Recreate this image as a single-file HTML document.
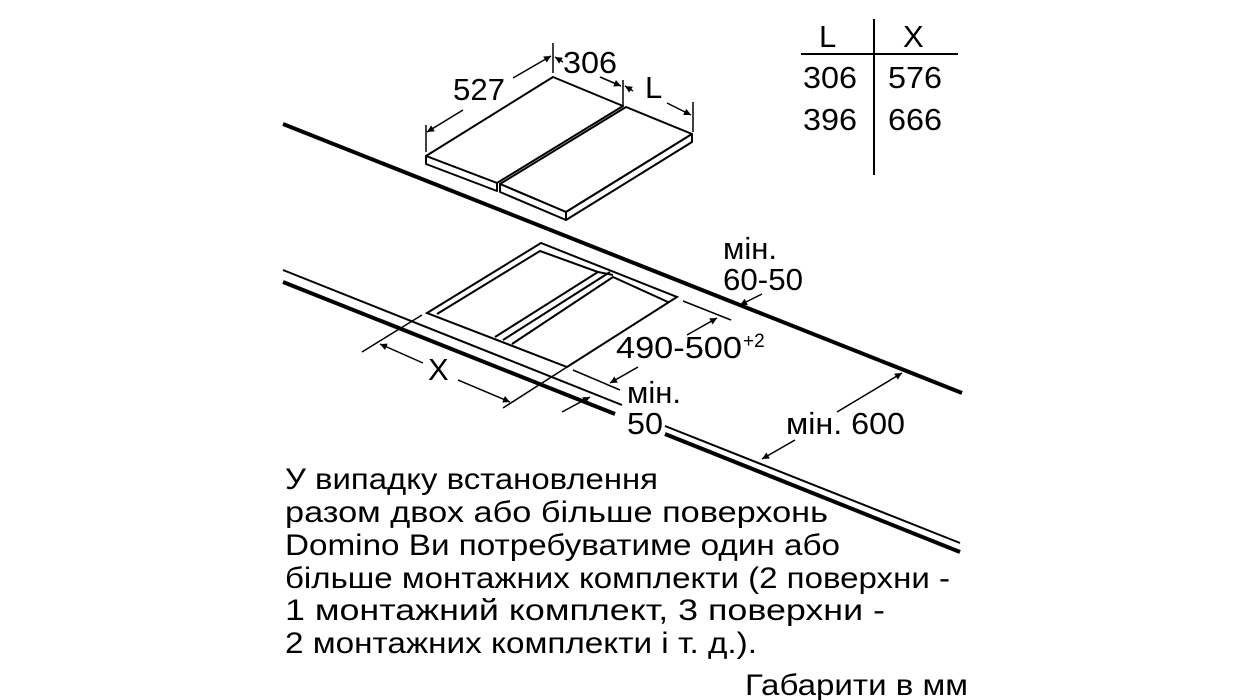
<!DOCTYPE html>
<html><head><meta charset="utf-8"><style>
html,body{margin:0;padding:0;background:#fff;}
svg{display:block;}
text{font-family:"Liberation Sans",Arial,sans-serif;fill:#000;}
</style></head><body>
<svg width="1245" height="700" viewBox="0 0 1245 700" xmlns="http://www.w3.org/2000/svg">
<defs>
<marker id="a" viewBox="0 0 10 10" refX="10" refY="5" markerWidth="10" markerHeight="7" orient="auto-start-reverse" markerUnits="userSpaceOnUse"><path d="M0,0 L10,5 L0,10 z" fill="#000"/></marker>
</defs>
<g stroke="#000" fill="none" stroke-linecap="butt">
<!-- back wall line -->
<line x1="283" y1="124" x2="962" y2="393" stroke-width="4"/>
<!-- front edge lines -->
<line x1="283" y1="270" x2="622" y2="405" stroke-width="2"/>
<line x1="665" y1="426" x2="960" y2="543" stroke-width="2"/>
<line x1="283" y1="282" x2="615" y2="414" stroke-width="4"/>
<line x1="665" y1="434" x2="960" y2="552" stroke-width="4"/>

<!-- hob -->
<g stroke-width="2" fill="#fff" stroke-linejoin="round">
<polygon points="426,156 553,77 623,106 497,183"/>
<polygon points="426,156 497,183 497,191 426,164"/>
<polygon points="500,184 626,107 692,134 566,212"/>
<polygon points="500,184 566,212 566,220 500,192"/>
<polygon points="566,212 692,134 692,142 566,220"/>
</g>
<!-- hob dims -->
<g stroke-width="1.5">
<line x1="426" y1="125" x2="426" y2="152"/>
<line x1="553" y1="43" x2="553" y2="73"/>
<line x1="623" y1="80" x2="623" y2="106"/>
<line x1="693" y1="102" x2="693" y2="132"/>
<line x1="427" y1="132" x2="463" y2="110" marker-start="url(#a)"/>
<line x1="513" y1="78" x2="551" y2="56" marker-end="url(#a)"/>
<line x1="555" y1="57" x2="563" y2="62" marker-start="url(#a)"/>
<line x1="600" y1="77" x2="621" y2="86" marker-end="url(#a)"/>
<line x1="625" y1="86" x2="633" y2="91" marker-start="url(#a)"/>
<line x1="667" y1="103" x2="691" y2="115" marker-end="url(#a)"/>
</g>

<!-- cutout -->
<g stroke-width="2" stroke-linejoin="miter">
<polygon points="427,313 541,243 677,297 567,367"/>
<polyline points="437,314 540,251 598,272 495,337"/>
<line x1="598" y1="272" x2="613" y2="275"/>
<line x1="610" y1="272" x2="503" y2="340"/>
<polyline points="512,344 613,277 668,302"/>
</g>
<!-- cutout dims -->
<g stroke-width="1.5">
<line x1="683" y1="301" x2="731" y2="320"/>
<line x1="687" y1="335" x2="717" y2="318" marker-end="url(#a)"/>
<line x1="573" y1="370" x2="620" y2="390"/>
<line x1="638" y1="367" x2="610" y2="383" marker-end="url(#a)"/>
<line x1="562" y1="412" x2="590" y2="397" marker-end="url(#a)"/>
<line x1="567" y1="367" x2="503" y2="408"/>
<line x1="422" y1="315" x2="362" y2="352"/>
<line x1="423" y1="363" x2="380" y2="344" marker-end="url(#a)"/>
<line x1="458" y1="380" x2="510" y2="402" marker-end="url(#a)"/>
<line x1="762" y1="294" x2="740" y2="305" marker-end="url(#a)"/>
<line x1="837" y1="412" x2="902" y2="373" marker-end="url(#a)"/>
<line x1="795" y1="440" x2="762" y2="459" marker-end="url(#a)"/>
</g>

<!-- table -->
<line x1="874" y1="19" x2="874" y2="175" stroke-width="2"/>
<line x1="801" y1="54" x2="958" y2="54" stroke-width="2"/>
</g>

<g font-size="31">
<text x="819" y="47">L</text>
<text x="903" y="47">X</text>
<text x="803" y="88" textLength="54" lengthAdjust="spacingAndGlyphs">306</text>
<text x="888" y="88" textLength="54" lengthAdjust="spacingAndGlyphs">576</text>
<text x="803" y="130" textLength="54" lengthAdjust="spacingAndGlyphs">396</text>
<text x="888" y="130" textLength="54" lengthAdjust="spacingAndGlyphs">666</text>
<text x="453" y="100" textLength="52" lengthAdjust="spacingAndGlyphs">527</text>
<text x="563" y="73" textLength="54" lengthAdjust="spacingAndGlyphs">306</text>
<text x="645" y="98">L</text>
<text x="723" y="259" textLength="54" lengthAdjust="spacingAndGlyphs">мін.</text>
<text x="723" y="290" textLength="80" lengthAdjust="spacingAndGlyphs">60-50</text>
<text x="616" y="358" textLength="126" lengthAdjust="spacingAndGlyphs">490-500</text>
<text x="743" y="347" font-size="19">+2</text>
<text x="627" y="403" textLength="54" lengthAdjust="spacingAndGlyphs">мін.</text>
<text x="627" y="434" textLength="36" lengthAdjust="spacingAndGlyphs">50</text>
<text x="428" y="380">X</text>
<text x="786" y="434" textLength="119" lengthAdjust="spacingAndGlyphs">мін. 600</text>
</g>
<g font-size="30">
<text x="285" y="489" textLength="373" lengthAdjust="spacingAndGlyphs">У випадку встановлення</text>
<text x="285" y="522" textLength="543" lengthAdjust="spacingAndGlyphs">разом двох або більше поверхонь</text>
<text x="285" y="555" textLength="555" lengthAdjust="spacingAndGlyphs">Domino Ви потребуватиме один або</text>
<text x="285" y="588" textLength="665" lengthAdjust="spacingAndGlyphs">більше монтажних комплекти (2 поверхни -</text>
<text x="285" y="620" textLength="600" lengthAdjust="spacingAndGlyphs">1 монтажний комплект, 3 поверхни -</text>
<text x="285" y="653" textLength="472" lengthAdjust="spacingAndGlyphs">2 монтажних комплекти і т. д.).</text>
<text x="745" y="695" textLength="223" lengthAdjust="spacingAndGlyphs">Габарити в мм</text>
</g>
</svg>
</body></html>
